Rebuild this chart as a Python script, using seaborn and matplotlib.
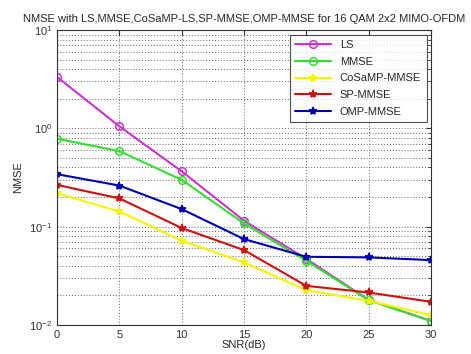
import matplotlib
matplotlib.use("Agg")
import matplotlib.pyplot as plt
import seaborn as sns
import pandas as pd

# SNR points and NMSE values
snr = [0, 5, 10, 15, 20, 25, 30]
ls = [3.34, 1.05, 0.366, 0.115, 0.047, 0.018, 0.011]
mmse = [0.785, 0.587, 0.30, 0.108, 0.045, 0.0179, 0.011]
cosamp_mmse = [0.219, 0.143, 0.072, 0.0433, 0.0226, 0.0176, 0.0126]
sp_mmse = [0.266, 0.194, 0.097, 0.0578, 0.025, 0.0214, 0.0172]
omp_mmse = [0.342, 0.262, 0.151, 0.0748, 0.0494, 0.0487, 0.0457]

labels = ["LS", "MMSE", "CoSaMP-MMSE", "SP-MMSE", "OMP-MMSE"]
series = [ls, mmse, cosamp_mmse, sp_mmse, omp_mmse]
colors = ["#cc33cc", "#33dd33", "#f5f500", "#cc1111", "#0000b0"]
markers = ["o", "o", "*", "*", "*"]

rows = []
for lab, vals in zip(labels, series):
    for s, v in zip(snr, vals):
        rows.append({"SNR": s, "NMSE": v, "method": lab})
df = pd.DataFrame(rows)

sns.set_style("white")
plt.rcParams["font.family"] = ["Liberation Sans", "DejaVu Sans"]
plt.rcParams["font.size"] = 8

fig = plt.figure(figsize=(4.71, 3.54), dpi=100)
ax = fig.add_axes([0.121, 0.082, 0.794, 0.833])

for lab, col, mk in zip(labels, colors, markers):
    sub = df[df["method"] == lab]
    filled = mk != "o"
    sns.lineplot(data=sub, x="SNR", y="NMSE", ax=ax, color=col, label=lab,
                 marker=mk, markersize=6 if filled else 5.5, linewidth=1.5,
                 markerfacecolor=col if filled else "none",
                 markeredgecolor=col, markeredgewidth=1.1)

ax.set_yscale("log")
ax.set_xlim(0, 30)
ax.set_ylim(1e-2, 1e1)
ax.set_xticks(snr)
ax.grid(True, which="major", axis="both", linestyle=(0, (1, 2)), color="#666666", linewidth=0.7)
ax.grid(True, which="minor", axis="y", linestyle=(0, (1, 2)), color="#666666", linewidth=0.7)
ax.tick_params(direction="in", which="both", top=True, right=True, labelsize=8,
               colors="#333333")
for sp in ax.spines.values():
    sp.set_color("#333333")
    sp.set_linewidth(0.8)

ax.set_xlabel("SNR(dB)", fontsize=8, labelpad=0)
ax.set_ylabel("NMSE", fontsize=8)
ax.set_title("NMSE with LS,MMSE,CoSaMP-LS,SP-MMSE,OMP-MMSE for 16 QAM 2x2 MIMO-OFDM",
             fontsize=8, pad=6)

leg = ax.legend(loc="upper right", fontsize=8, frameon=True, fancybox=False,
                edgecolor="#222222", borderaxespad=0.4, handlelength=3.2,
                labelspacing=0.6, borderpad=0.5)
leg.get_frame().set_linewidth(0.8)

fig.savefig("out.png", dpi=100, facecolor="white")
